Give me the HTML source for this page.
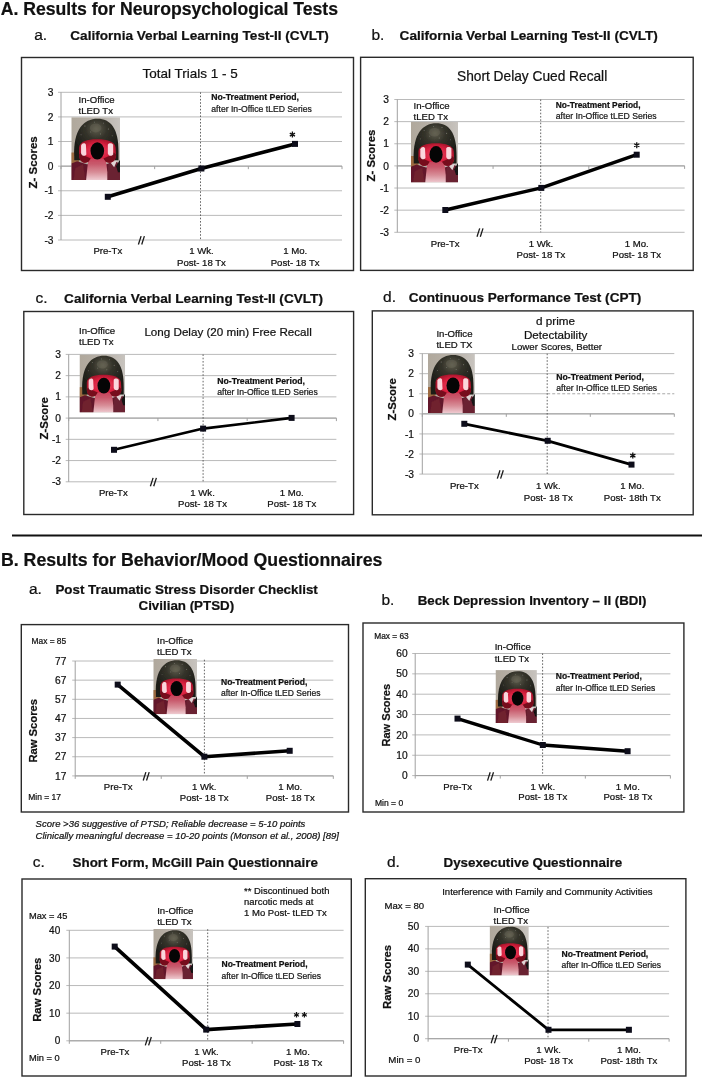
<!DOCTYPE html>
<html><head><meta charset="utf-8"><style>
html,body{margin:0;padding:0;background:#fff;}
body{width:702px;height:1077px;overflow:hidden;}
svg{display:block;font-family:"Liberation Sans",sans-serif;will-change:transform;} text{stroke:#111;stroke-width:0.22px;}
</style></head><body>
<svg width="702" height="1077" viewBox="0 0 702 1077">
<symbol id="photo" viewBox="0 0 50 64" preserveAspectRatio="none">
 <defs>
  <linearGradient id="pbg" x1="0" y1="0" x2="1" y2="0"><stop offset="0" stop-color="#b0a89c"/><stop offset="0.6" stop-color="#b8b2aa"/><stop offset="1" stop-color="#c8c4bf"/></linearGradient>
  <radialGradient id="phelm" cx="0.5" cy="0.25" r="0.6"><stop offset="0" stop-color="#5e5c4c"/><stop offset="0.4" stop-color="#34332a"/><stop offset="1" stop-color="#1c1c17"/></radialGradient>
  <radialGradient id="pglow" cx="0.5" cy="0.5" r="0.55"><stop offset="0" stop-color="#ee4a68"/><stop offset="0.6" stop-color="#d8203e"/><stop offset="1" stop-color="#a01428"/></radialGradient>
  <linearGradient id="pneck" x1="0" y1="0" x2="0" y2="1"><stop offset="0" stop-color="#c83450"/><stop offset="0.35" stop-color="#c85a6c"/><stop offset="0.65" stop-color="#d88e98"/><stop offset="1" stop-color="#f4dadf"/></linearGradient>
  <clipPath id="pclip"><rect width="50" height="64"/></clipPath>
  <filter id="pblur" x="-0.1" y="-0.1" width="1.2" height="1.2"><feGaussianBlur stdDeviation="0.6"/></filter>
 </defs>
 <rect width="50" height="64" fill="url(#pbg)"/>
 <g clip-path="url(#pclip)"><g filter="url(#pblur)">
 <rect x="-2" y="36" width="10" height="16" fill="#9c6a40"/>
 <path d="M-2 48 L-2 66 L52 66 L52 48 L44 45 L36 48 L16 48 L6 45 Z" fill="#62182a"/>
 <path d="M2 66 L4 52 L12 48 L15 66 Z" fill="#70202e"/>
 <path d="M38 48 L45 45 L52 50 L52 66 L36 66 Z" fill="#6a2030"/>
 <path d="M40 46 L47 44 L44 51 Z" fill="#e0d4d4"/>
 <path d="M46 50 L52 40 L52 56 L48 56 Z" fill="#121212"/>
 <path d="M3 40 C2 12 13 1.5 27 1.5 C40 1.5 49 11 48.5 36 L48.5 44 L3 44 Z" fill="url(#phelm)"/>
 <ellipse cx="25" cy="11" rx="6" ry="4.5" fill="#737060" opacity="0.35"/>
 <g fill="#d8d8d0" opacity="0.7"><circle cx="14" cy="9" r="0.5"/><circle cx="33" cy="6" r="0.45"/><circle cx="38" cy="12" r="0.5"/><circle cx="20" cy="15" r="0.4"/><circle cx="30" cy="17" r="0.45"/><circle cx="10" cy="18" r="0.4"/><circle cx="42" cy="19" r="0.4"/><circle cx="24" cy="5" r="0.4"/></g>
 <path d="M18 38 L35 38 L37 56 L37 66 L15 66 L16 56 Z" fill="url(#pneck)"/>
 <path d="M8 31 C8.5 25 16 22.5 26.5 22.5 C37 22.5 45 25 45.5 31 L46 40 C44.5 46.5 39 47.5 35.5 45.5 L33 42 L20 42 L17.5 45.5 C14 47.5 9 46.5 8 40 Z" fill="url(#pglow)"/>
 <path d="M8 38 C8.5 46 13 47.5 17.5 45.5 L20 42 L13 39 L10 36 Z" fill="#760c1e"/>
 <path d="M46 38 C45 46 40 47.5 35.5 45.5 L33 42 L40 39 L43.5 36 Z" fill="#760c1e"/>
 <path d="M10 29 C11 26 14 26 15 28 L15.5 38 C14 40 11 40 10 37 Z" fill="#ffe6ea" opacity="0.92"/>
 <path d="M37.5 28 C38.5 26 41.5 26 43 28 L43 38 C41.5 40 38.5 40 37.5 37 Z" fill="#ffe6ea" opacity="0.92"/>
 </g></g>
 <ellipse cx="26.7" cy="34.3" rx="7" ry="8.7" fill="#050505"/>
</symbol>
<rect width="702" height="1077" fill="#fff"/>
<text x="0.70" y="15.20" font-size="17.62" font-weight="bold" text-anchor="start" fill="#111">A. Results for Neuropsychological Tests</text>
<text x="34.20" y="39.90" font-size="15.50" font-weight="normal" text-anchor="start" fill="#111">a.</text>
<text x="70.30" y="40.20" font-size="13.60" font-weight="bold" text-anchor="start" fill="#111">California Verbal Learning Test-II (CVLT)</text>
<text x="371.40" y="40.20" font-size="15.50" font-weight="normal" text-anchor="start" fill="#111">b.</text>
<text x="399.60" y="40.10" font-size="13.58" font-weight="bold" text-anchor="start" fill="#111">California Verbal Learning Test-II (CVLT)</text>
<text x="35.40" y="303.10" font-size="15.50" font-weight="normal" text-anchor="start" fill="#111">c.</text>
<text x="64.10" y="303.10" font-size="13.61" font-weight="bold" text-anchor="start" fill="#111">California Verbal Learning Test-II (CVLT)</text>
<text x="383.10" y="301.80" font-size="15.50" font-weight="normal" text-anchor="start" fill="#111">d.</text>
<text x="408.70" y="301.80" font-size="13.57" font-weight="bold" text-anchor="start" fill="#111">Continuous Performance Test (CPT)</text>
<line x1="12.00" y1="535.50" x2="702.00" y2="535.50" stroke="#111" stroke-width="2"/>
<text x="1.00" y="565.70" font-size="17.69" font-weight="bold" text-anchor="start" fill="#111">B. Results for Behavior/Mood Questionnaires</text>
<text x="29.00" y="593.80" font-size="15.50" font-weight="normal" text-anchor="start" fill="#111">a.</text>
<text x="55.40" y="593.70" font-size="13.39" font-weight="bold" text-anchor="start" fill="#111">Post Traumatic Stress Disorder Checklist</text>
<text x="138.50" y="609.50" font-size="13.35" font-weight="bold" text-anchor="start" fill="#111">Civilian (PTSD)</text>
<text x="381.50" y="604.50" font-size="15.50" font-weight="normal" text-anchor="start" fill="#111">b.</text>
<text x="417.70" y="604.70" font-size="13.29" font-weight="bold" text-anchor="start" fill="#111">Beck Depression Inventory – II (BDI)</text>
<text x="35.60" y="827.00" font-size="9.52" font-weight="normal" font-style="italic" text-anchor="start" fill="#111">Score &gt;36 suggestive of PTSD; Reliable decrease = 5-10 points</text>
<text x="35.60" y="839.00" font-size="9.54" font-weight="normal" font-style="italic" text-anchor="start" fill="#111">Clinically meaningful decrease = 10-20 points (Monson et al., 2008) [89]</text>
<text x="32.80" y="867.00" font-size="15.50" font-weight="normal" text-anchor="start" fill="#111">c.</text>
<text x="72.60" y="867.00" font-size="13.38" font-weight="bold" text-anchor="start" fill="#111">Short Form, McGill Pain Questionnaire</text>
<text x="387.00" y="867.40" font-size="15.50" font-weight="normal" text-anchor="start" fill="#111">d.</text>
<text x="443.50" y="867.00" font-size="13.35" font-weight="bold" text-anchor="start" fill="#111">Dysexecutive Questionnaire</text>
<rect x="21.50" y="57.50" width="332.00" height="213.00" fill="#fff" stroke="#2a2a2a" stroke-width="1.4"/>
<line x1="58.00" y1="92.30" x2="342.00" y2="92.30" stroke="#bababa" stroke-width="1"/>
<text x="47.84" y="95.90" font-size="10.20" font-weight="normal" text-anchor="start" fill="#111">3</text>
<line x1="58.00" y1="116.92" x2="342.00" y2="116.92" stroke="#bababa" stroke-width="1"/>
<text x="47.84" y="120.52" font-size="10.20" font-weight="normal" text-anchor="start" fill="#111">2</text>
<line x1="58.00" y1="141.53" x2="342.00" y2="141.53" stroke="#bababa" stroke-width="1"/>
<text x="47.84" y="145.13" font-size="10.20" font-weight="normal" text-anchor="start" fill="#111">1</text>
<line x1="58.00" y1="166.15" x2="342.00" y2="166.15" stroke="#bababa" stroke-width="1"/>
<text x="47.84" y="169.75" font-size="10.20" font-weight="normal" text-anchor="start" fill="#111">0</text>
<line x1="58.00" y1="190.77" x2="342.00" y2="190.77" stroke="#bababa" stroke-width="1"/>
<text x="44.42" y="194.37" font-size="10.20" font-weight="normal" text-anchor="start" fill="#111">-1</text>
<line x1="58.00" y1="215.38" x2="342.00" y2="215.38" stroke="#bababa" stroke-width="1"/>
<text x="44.42" y="218.98" font-size="10.20" font-weight="normal" text-anchor="start" fill="#111">-2</text>
<line x1="58.00" y1="240.00" x2="342.00" y2="240.00" stroke="#bababa" stroke-width="1"/>
<text x="44.42" y="243.60" font-size="10.20" font-weight="normal" text-anchor="start" fill="#111">-3</text>
<line x1="61.00" y1="92.30" x2="61.00" y2="240.00" stroke="#a0a0a0" stroke-width="1"/>
<line x1="61.00" y1="166.15" x2="342.00" y2="166.15" stroke="#a0a0a0" stroke-width="1"/>
<line x1="61.00" y1="166.15" x2="61.00" y2="169.15" stroke="#a0a0a0" stroke-width="1"/>
<line x1="154.67" y1="166.15" x2="154.67" y2="169.15" stroke="#a0a0a0" stroke-width="1"/>
<line x1="248.33" y1="166.15" x2="248.33" y2="169.15" stroke="#a0a0a0" stroke-width="1"/>
<line x1="342.00" y1="166.15" x2="342.00" y2="169.15" stroke="#a0a0a0" stroke-width="1"/>
<line x1="200.50" y1="92.30" x2="200.50" y2="240.00" stroke="#555" stroke-width="0.9" stroke-dasharray="1.6,1.7"/>
<use href="#photo" x="0" y="0" width="50" height="64" transform="translate(71.30,117.20) scale(0.9740,0.9812)"/>
<polyline points="107.80,196.80 201.40,168.50 295.00,143.90" fill="none" stroke="#000" stroke-width="3.6" stroke-linejoin="round"/>
<rect x="104.80" y="193.80" width="6.00" height="6.00" fill="#0d0d1a" stroke="none" stroke-width="1"/>
<rect x="198.40" y="165.50" width="6.00" height="6.00" fill="#0d0d1a" stroke="none" stroke-width="1"/>
<rect x="292.00" y="140.90" width="6.00" height="6.00" fill="#0d0d1a" stroke="none" stroke-width="1"/>
<line x1="138.40" y1="244.50" x2="141.10" y2="236.10" stroke="#1a1a1a" stroke-width="1.3"/>
<line x1="141.70" y1="244.50" x2="144.40" y2="236.10" stroke="#1a1a1a" stroke-width="1.3"/>
<text x="93.43" y="254.40" font-size="9.60" font-weight="normal" text-anchor="start" fill="#111">Pre-Tx</text>
<text x="189.24" y="254.40" font-size="9.60" font-weight="normal" text-anchor="start" fill="#111">1 Wk.</text>
<text x="177.04" y="265.50" font-size="9.60" font-weight="normal" text-anchor="start" fill="#111">Post- 18 Tx</text>
<text x="283.17" y="254.40" font-size="9.60" font-weight="normal" text-anchor="start" fill="#111">1 Mo.</text>
<text x="270.71" y="265.50" font-size="9.60" font-weight="normal" text-anchor="start" fill="#111">Post- 18 Tx</text>
<text x="78.50" y="102.60" font-size="9.60" font-weight="normal" text-anchor="start" fill="#111">In-Office</text>
<text x="78.50" y="114.10" font-size="9.60" font-weight="normal" text-anchor="start" fill="#111">tLED Tx</text>
<text x="211.30" y="100.00" font-size="8.69" font-weight="bold" text-anchor="start" fill="#111">No-Treatment Period,</text>
<text x="211.30" y="111.50" font-size="8.64" font-weight="normal" text-anchor="start" fill="#222">after In-Office tLED Series</text>
<text transform="translate(37.30,188.50) rotate(-90)" x="0" y="0" font-size="11.46" font-weight="bold" fill="#111">Z- Scores</text>
<text x="142.60" y="78.20" font-size="13.47" font-weight="normal" text-anchor="start" fill="#111">Total Trials 1 - 5</text>
<path d="M292.40 131.60L292.40 137.60 M295.00 133.10L289.80 136.10 M295.00 136.10L289.80 133.10" stroke="#111" stroke-width="1.3" fill="none"/>
<rect x="360.60" y="57.30" width="332.60" height="213.10" fill="#fff" stroke="#2a2a2a" stroke-width="1.4"/>
<line x1="394.30" y1="99.50" x2="684.60" y2="99.50" stroke="#bababa" stroke-width="1"/>
<text x="383.34" y="103.10" font-size="10.20" font-weight="normal" text-anchor="start" fill="#111">3</text>
<line x1="394.30" y1="121.63" x2="684.60" y2="121.63" stroke="#bababa" stroke-width="1"/>
<text x="383.34" y="125.23" font-size="10.20" font-weight="normal" text-anchor="start" fill="#111">2</text>
<line x1="394.30" y1="143.77" x2="684.60" y2="143.77" stroke="#bababa" stroke-width="1"/>
<text x="383.34" y="147.37" font-size="10.20" font-weight="normal" text-anchor="start" fill="#111">1</text>
<line x1="394.30" y1="165.90" x2="684.60" y2="165.90" stroke="#bababa" stroke-width="1"/>
<text x="383.34" y="169.50" font-size="10.20" font-weight="normal" text-anchor="start" fill="#111">0</text>
<line x1="394.30" y1="188.03" x2="684.60" y2="188.03" stroke="#bababa" stroke-width="1"/>
<text x="379.92" y="191.63" font-size="10.20" font-weight="normal" text-anchor="start" fill="#111">-1</text>
<line x1="394.30" y1="210.17" x2="684.60" y2="210.17" stroke="#bababa" stroke-width="1"/>
<text x="379.92" y="213.77" font-size="10.20" font-weight="normal" text-anchor="start" fill="#111">-2</text>
<line x1="394.30" y1="232.30" x2="684.60" y2="232.30" stroke="#bababa" stroke-width="1"/>
<text x="379.92" y="235.90" font-size="10.20" font-weight="normal" text-anchor="start" fill="#111">-3</text>
<line x1="397.30" y1="99.50" x2="397.30" y2="232.30" stroke="#a0a0a0" stroke-width="1"/>
<line x1="397.30" y1="165.90" x2="684.60" y2="165.90" stroke="#a0a0a0" stroke-width="1"/>
<line x1="397.30" y1="165.90" x2="397.30" y2="168.90" stroke="#a0a0a0" stroke-width="1"/>
<line x1="493.07" y1="165.90" x2="493.07" y2="168.90" stroke="#a0a0a0" stroke-width="1"/>
<line x1="588.83" y1="165.90" x2="588.83" y2="168.90" stroke="#a0a0a0" stroke-width="1"/>
<line x1="684.60" y1="165.90" x2="684.60" y2="168.90" stroke="#a0a0a0" stroke-width="1"/>
<line x1="540.70" y1="99.50" x2="540.70" y2="232.30" stroke="#555" stroke-width="0.9" stroke-dasharray="1.6,1.7"/>
<use href="#photo" x="0" y="0" width="50" height="64" transform="translate(410.90,121.80) scale(0.9420,0.9500)"/>
<polyline points="445.30,210.00 541.30,187.90 636.70,154.70" fill="none" stroke="#000" stroke-width="3.4" stroke-linejoin="round"/>
<rect x="442.30" y="207.00" width="6.00" height="6.00" fill="#0d0d1a" stroke="none" stroke-width="1"/>
<rect x="538.30" y="184.90" width="6.00" height="6.00" fill="#0d0d1a" stroke="none" stroke-width="1"/>
<rect x="633.70" y="151.70" width="6.00" height="6.00" fill="#0d0d1a" stroke="none" stroke-width="1"/>
<line x1="477.00" y1="236.80" x2="479.70" y2="228.40" stroke="#1a1a1a" stroke-width="1.3"/>
<line x1="480.30" y1="236.80" x2="483.00" y2="228.40" stroke="#1a1a1a" stroke-width="1.3"/>
<text x="430.78" y="246.80" font-size="9.60" font-weight="normal" text-anchor="start" fill="#111">Pre-Tx</text>
<text x="528.69" y="246.80" font-size="9.60" font-weight="normal" text-anchor="start" fill="#111">1 Wk.</text>
<text x="516.49" y="258.20" font-size="9.60" font-weight="normal" text-anchor="start" fill="#111">Post- 18 Tx</text>
<text x="624.72" y="246.80" font-size="9.60" font-weight="normal" text-anchor="start" fill="#111">1 Mo.</text>
<text x="612.26" y="258.20" font-size="9.60" font-weight="normal" text-anchor="start" fill="#111">Post- 18 Tx</text>
<text x="413.50" y="108.50" font-size="9.60" font-weight="normal" text-anchor="start" fill="#111">In-Office</text>
<text x="413.50" y="120.00" font-size="9.60" font-weight="normal" text-anchor="start" fill="#111">tLED Tx</text>
<text x="555.80" y="107.60" font-size="8.38" font-weight="bold" text-anchor="start" fill="#111">No-Treatment Period,</text>
<text x="555.80" y="119.20" font-size="8.67" font-weight="normal" text-anchor="start" fill="#222">after In-Office tLED Series</text>
<text transform="translate(375.10,181.40) rotate(-90)" x="0" y="0" font-size="11.37" font-weight="bold" fill="#111">Z- Scores</text>
<text x="457.00" y="80.80" font-size="13.72" font-weight="normal" text-anchor="start" fill="#111">Short Delay Cued Recall</text>
<path d="M636.75 142.30L636.75 148.30 M639.35 143.80L634.15 146.80 M639.35 146.80L634.15 143.80" stroke="#111" stroke-width="1.3" fill="none"/>
<rect x="23.80" y="311.50" width="329.80" height="203.00" fill="#fff" stroke="#2a2a2a" stroke-width="1.4"/>
<line x1="65.70" y1="354.40" x2="336.40" y2="354.40" stroke="#bababa" stroke-width="1"/>
<text x="55.34" y="358.00" font-size="10.20" font-weight="normal" text-anchor="start" fill="#111">3</text>
<line x1="65.70" y1="375.63" x2="336.40" y2="375.63" stroke="#bababa" stroke-width="1"/>
<text x="55.34" y="379.23" font-size="10.20" font-weight="normal" text-anchor="start" fill="#111">2</text>
<line x1="65.70" y1="396.87" x2="336.40" y2="396.87" stroke="#bababa" stroke-width="1"/>
<text x="55.34" y="400.47" font-size="10.20" font-weight="normal" text-anchor="start" fill="#111">1</text>
<line x1="65.70" y1="418.10" x2="336.40" y2="418.10" stroke="#bababa" stroke-width="1"/>
<text x="55.34" y="421.70" font-size="10.20" font-weight="normal" text-anchor="start" fill="#111">0</text>
<line x1="65.70" y1="439.33" x2="336.40" y2="439.33" stroke="#bababa" stroke-width="1"/>
<text x="51.92" y="442.93" font-size="10.20" font-weight="normal" text-anchor="start" fill="#111">-1</text>
<line x1="65.70" y1="460.57" x2="336.40" y2="460.57" stroke="#bababa" stroke-width="1"/>
<text x="51.92" y="464.17" font-size="10.20" font-weight="normal" text-anchor="start" fill="#111">-2</text>
<line x1="65.70" y1="481.80" x2="336.40" y2="481.80" stroke="#bababa" stroke-width="1"/>
<text x="51.92" y="485.40" font-size="10.20" font-weight="normal" text-anchor="start" fill="#111">-3</text>
<line x1="68.70" y1="354.40" x2="68.70" y2="481.80" stroke="#a0a0a0" stroke-width="1"/>
<line x1="68.70" y1="418.10" x2="336.40" y2="418.10" stroke="#a0a0a0" stroke-width="1"/>
<line x1="68.70" y1="418.10" x2="68.70" y2="421.10" stroke="#a0a0a0" stroke-width="1"/>
<line x1="157.93" y1="418.10" x2="157.93" y2="421.10" stroke="#a0a0a0" stroke-width="1"/>
<line x1="247.17" y1="418.10" x2="247.17" y2="421.10" stroke="#a0a0a0" stroke-width="1"/>
<line x1="336.40" y1="418.10" x2="336.40" y2="421.10" stroke="#a0a0a0" stroke-width="1"/>
<line x1="203.10" y1="354.40" x2="203.10" y2="481.80" stroke="#555" stroke-width="0.9" stroke-dasharray="1.6,1.7"/>
<use href="#photo" x="0" y="0" width="50" height="64" transform="translate(79.50,354.40) scale(0.9120,0.9094)"/>
<polyline points="114.00,449.80 203.10,428.60 291.60,417.90" fill="none" stroke="#000" stroke-width="2.6" stroke-linejoin="round"/>
<rect x="111.00" y="446.80" width="6.00" height="6.00" fill="#0d0d1a" stroke="none" stroke-width="1"/>
<rect x="200.10" y="425.60" width="6.00" height="6.00" fill="#0d0d1a" stroke="none" stroke-width="1"/>
<rect x="288.60" y="414.90" width="6.00" height="6.00" fill="#0d0d1a" stroke="none" stroke-width="1"/>
<line x1="150.40" y1="486.30" x2="153.10" y2="477.90" stroke="#1a1a1a" stroke-width="1.3"/>
<line x1="153.70" y1="486.30" x2="156.40" y2="477.90" stroke="#1a1a1a" stroke-width="1.3"/>
<text x="98.92" y="496.30" font-size="9.60" font-weight="normal" text-anchor="start" fill="#111">Pre-Tx</text>
<text x="190.29" y="496.30" font-size="9.60" font-weight="normal" text-anchor="start" fill="#111">1 Wk.</text>
<text x="178.09" y="507.30" font-size="9.60" font-weight="normal" text-anchor="start" fill="#111">Post- 18 Tx</text>
<text x="279.78" y="496.30" font-size="9.60" font-weight="normal" text-anchor="start" fill="#111">1 Mo.</text>
<text x="267.33" y="507.30" font-size="9.60" font-weight="normal" text-anchor="start" fill="#111">Post- 18 Tx</text>
<text x="79.00" y="333.80" font-size="9.60" font-weight="normal" text-anchor="start" fill="#111">In-Office</text>
<text x="79.00" y="345.40" font-size="9.60" font-weight="normal" text-anchor="start" fill="#111">tLED Tx</text>
<text x="217.20" y="384.10" font-size="8.69" font-weight="bold" text-anchor="start" fill="#111">No-Treatment Period,</text>
<text x="217.20" y="395.40" font-size="8.65" font-weight="normal" text-anchor="start" fill="#222">after In-Office tLED Series</text>
<text transform="translate(47.70,439.40) rotate(-90)" x="0" y="0" font-size="11.36" font-weight="bold" fill="#111">Z-Score</text>
<text x="144.40" y="335.60" font-size="11.64" font-weight="normal" text-anchor="start" fill="#111">Long Delay (20 min) Free Recall</text>
<rect x="372.30" y="310.90" width="320.90" height="203.90" fill="#fff" stroke="#2a2a2a" stroke-width="1.4"/>
<line x1="419.30" y1="353.60" x2="674.30" y2="353.60" stroke="#bababa" stroke-width="1"/>
<text x="408.34" y="357.20" font-size="10.20" font-weight="normal" text-anchor="start" fill="#111">3</text>
<line x1="419.30" y1="373.68" x2="674.30" y2="373.68" stroke="#bababa" stroke-width="1"/>
<text x="408.34" y="377.28" font-size="10.20" font-weight="normal" text-anchor="start" fill="#111">2</text>
<line x1="419.30" y1="393.77" x2="547.20" y2="393.77" stroke="#bababa" stroke-width="1"/>
<line x1="547.20" y1="393.77" x2="674.30" y2="393.77" stroke="#a8a8a8" stroke-width="1" stroke-dasharray="3,2"/>
<text x="408.34" y="397.37" font-size="10.20" font-weight="normal" text-anchor="start" fill="#111">1</text>
<line x1="419.30" y1="413.85" x2="674.30" y2="413.85" stroke="#bababa" stroke-width="1"/>
<text x="408.34" y="417.45" font-size="10.20" font-weight="normal" text-anchor="start" fill="#111">0</text>
<line x1="419.30" y1="433.93" x2="674.30" y2="433.93" stroke="#bababa" stroke-width="1"/>
<text x="404.92" y="437.53" font-size="10.20" font-weight="normal" text-anchor="start" fill="#111">-1</text>
<line x1="419.30" y1="454.02" x2="674.30" y2="454.02" stroke="#bababa" stroke-width="1"/>
<text x="404.92" y="457.62" font-size="10.20" font-weight="normal" text-anchor="start" fill="#111">-2</text>
<line x1="419.30" y1="474.10" x2="674.30" y2="474.10" stroke="#bababa" stroke-width="1"/>
<text x="404.92" y="477.70" font-size="10.20" font-weight="normal" text-anchor="start" fill="#111">-3</text>
<line x1="422.30" y1="353.60" x2="422.30" y2="474.10" stroke="#a0a0a0" stroke-width="1"/>
<line x1="422.30" y1="413.85" x2="674.30" y2="413.85" stroke="#a0a0a0" stroke-width="1"/>
<line x1="422.30" y1="413.85" x2="422.30" y2="416.85" stroke="#a0a0a0" stroke-width="1"/>
<line x1="506.30" y1="413.85" x2="506.30" y2="416.85" stroke="#a0a0a0" stroke-width="1"/>
<line x1="590.30" y1="413.85" x2="590.30" y2="416.85" stroke="#a0a0a0" stroke-width="1"/>
<line x1="674.30" y1="413.85" x2="674.30" y2="416.85" stroke="#a0a0a0" stroke-width="1"/>
<line x1="547.20" y1="353.60" x2="547.20" y2="474.10" stroke="#555" stroke-width="0.9" stroke-dasharray="1.6,1.7"/>
<use href="#photo" x="0" y="0" width="50" height="64" transform="translate(428.00,353.60) scale(0.9380,0.9297)"/>
<polyline points="464.30,423.80 547.70,440.80 631.50,464.60" fill="none" stroke="#000" stroke-width="2.8" stroke-linejoin="round"/>
<rect x="461.30" y="420.80" width="6.00" height="6.00" fill="#0d0d1a" stroke="none" stroke-width="1"/>
<rect x="544.70" y="437.80" width="6.00" height="6.00" fill="#0d0d1a" stroke="none" stroke-width="1"/>
<rect x="628.50" y="461.60" width="6.00" height="6.00" fill="#0d0d1a" stroke="none" stroke-width="1"/>
<line x1="497.30" y1="478.60" x2="500.00" y2="470.20" stroke="#1a1a1a" stroke-width="1.3"/>
<line x1="500.60" y1="478.60" x2="503.30" y2="470.20" stroke="#1a1a1a" stroke-width="1.3"/>
<text x="449.90" y="488.70" font-size="9.60" font-weight="normal" text-anchor="start" fill="#111">Pre-Tx</text>
<text x="536.04" y="488.70" font-size="9.60" font-weight="normal" text-anchor="start" fill="#111">1 Wk.</text>
<text x="523.84" y="501.00" font-size="9.60" font-weight="normal" text-anchor="start" fill="#111">Post- 18 Tx</text>
<text x="620.30" y="488.70" font-size="9.60" font-weight="normal" text-anchor="start" fill="#111">1 Mo.</text>
<text x="603.84" y="501.00" font-size="9.60" font-weight="normal" text-anchor="start" fill="#111">Post- 18th Tx</text>
<text x="436.40" y="336.90" font-size="9.60" font-weight="normal" text-anchor="start" fill="#111">In-Office</text>
<text x="436.40" y="348.00" font-size="9.60" font-weight="normal" text-anchor="start" fill="#111">tLED TX</text>
<text x="556.30" y="379.60" font-size="8.66" font-weight="bold" text-anchor="start" fill="#111">No-Treatment Period,</text>
<text x="556.30" y="391.30" font-size="8.67" font-weight="normal" text-anchor="start" fill="#222">after In-Office tLED Series</text>
<text transform="translate(395.80,420.50) rotate(-90)" x="0" y="0" font-size="11.36" font-weight="bold" fill="#111">Z-Score</text>
<text x="536.00" y="325.10" font-size="11.69" font-weight="normal" text-anchor="start" fill="#111">d prime</text>
<text x="523.90" y="339.00" font-size="11.63" font-weight="normal" text-anchor="start" fill="#111">Detectability</text>
<text x="511.60" y="350.00" font-size="9.70" font-weight="normal" text-anchor="start" fill="#111">Lower Scores, Better</text>
<path d="M632.80 452.60L632.80 458.60 M635.40 454.10L630.20 457.10 M635.40 457.10L630.20 454.10" stroke="#111" stroke-width="1.3" fill="none"/>
<rect x="21.30" y="624.60" width="327.20" height="187.40" fill="#fff" stroke="#2a2a2a" stroke-width="1.4"/>
<line x1="72.20" y1="661.00" x2="333.30" y2="661.00" stroke="#bababa" stroke-width="1"/>
<text x="55.08" y="664.60" font-size="10.20" font-weight="normal" text-anchor="start" fill="#111">77</text>
<line x1="72.20" y1="680.15" x2="333.30" y2="680.15" stroke="#bababa" stroke-width="1"/>
<text x="55.08" y="683.75" font-size="10.20" font-weight="normal" text-anchor="start" fill="#111">67</text>
<line x1="72.20" y1="699.30" x2="333.30" y2="699.30" stroke="#bababa" stroke-width="1"/>
<text x="55.08" y="702.90" font-size="10.20" font-weight="normal" text-anchor="start" fill="#111">57</text>
<line x1="72.20" y1="718.45" x2="333.30" y2="718.45" stroke="#bababa" stroke-width="1"/>
<text x="55.08" y="722.05" font-size="10.20" font-weight="normal" text-anchor="start" fill="#111">47</text>
<line x1="72.20" y1="737.60" x2="333.30" y2="737.60" stroke="#bababa" stroke-width="1"/>
<text x="55.08" y="741.20" font-size="10.20" font-weight="normal" text-anchor="start" fill="#111">37</text>
<line x1="72.20" y1="756.75" x2="333.30" y2="756.75" stroke="#bababa" stroke-width="1"/>
<text x="55.08" y="760.35" font-size="10.20" font-weight="normal" text-anchor="start" fill="#111">27</text>
<line x1="72.20" y1="775.90" x2="333.30" y2="775.90" stroke="#bababa" stroke-width="1"/>
<text x="55.08" y="779.50" font-size="10.20" font-weight="normal" text-anchor="start" fill="#111">17</text>
<line x1="75.20" y1="661.00" x2="75.20" y2="775.90" stroke="#a0a0a0" stroke-width="1"/>
<line x1="75.20" y1="775.90" x2="333.30" y2="775.90" stroke="#a0a0a0" stroke-width="1"/>
<line x1="75.20" y1="775.90" x2="75.20" y2="778.90" stroke="#a0a0a0" stroke-width="1"/>
<line x1="161.23" y1="775.90" x2="161.23" y2="778.90" stroke="#a0a0a0" stroke-width="1"/>
<line x1="247.27" y1="775.90" x2="247.27" y2="778.90" stroke="#a0a0a0" stroke-width="1"/>
<line x1="333.30" y1="775.90" x2="333.30" y2="778.90" stroke="#a0a0a0" stroke-width="1"/>
<line x1="204.40" y1="659.70" x2="204.40" y2="775.00" stroke="#555" stroke-width="0.9" stroke-dasharray="1.6,1.7"/>
<use href="#photo" x="0" y="0" width="50" height="64" transform="translate(153.30,659.00) scale(0.8740,0.8625)"/>
<polyline points="117.70,684.60 204.40,756.70 289.70,750.80" fill="none" stroke="#000" stroke-width="3.6" stroke-linejoin="round"/>
<rect x="114.70" y="681.60" width="6.00" height="6.00" fill="#0d0d1a" stroke="none" stroke-width="1"/>
<rect x="201.40" y="753.70" width="6.00" height="6.00" fill="#0d0d1a" stroke="none" stroke-width="1"/>
<rect x="286.70" y="747.80" width="6.00" height="6.00" fill="#0d0d1a" stroke="none" stroke-width="1"/>
<line x1="143.20" y1="780.50" x2="145.90" y2="772.10" stroke="#1a1a1a" stroke-width="1.3"/>
<line x1="146.50" y1="780.50" x2="149.20" y2="772.10" stroke="#1a1a1a" stroke-width="1.3"/>
<text x="103.82" y="790.40" font-size="9.60" font-weight="normal" text-anchor="start" fill="#111">Pre-Tx</text>
<text x="191.99" y="790.40" font-size="9.60" font-weight="normal" text-anchor="start" fill="#111">1 Wk.</text>
<text x="179.79" y="800.80" font-size="9.60" font-weight="normal" text-anchor="start" fill="#111">Post- 18 Tx</text>
<text x="278.28" y="790.40" font-size="9.60" font-weight="normal" text-anchor="start" fill="#111">1 Mo.</text>
<text x="265.83" y="800.80" font-size="9.60" font-weight="normal" text-anchor="start" fill="#111">Post- 18 Tx</text>
<text x="157.00" y="643.50" font-size="9.60" font-weight="normal" text-anchor="start" fill="#111">In-Office</text>
<text x="157.00" y="655.10" font-size="9.60" font-weight="normal" text-anchor="start" fill="#111">tLED Tx</text>
<text x="221.00" y="684.90" font-size="8.54" font-weight="bold" text-anchor="start" fill="#111">No-Treatment Period,</text>
<text x="221.00" y="696.40" font-size="8.54" font-weight="normal" text-anchor="start" fill="#222">after In-Office tLED Series</text>
<text transform="translate(36.80,762.60) rotate(-90)" x="0" y="0" font-size="11.22" font-weight="bold" fill="#111">Raw Scores</text>
<text x="31.50" y="644.40" font-size="8.38" font-weight="normal" text-anchor="start" fill="#111">Max = 85</text>
<text x="28.20" y="800.00" font-size="8.49" font-weight="normal" text-anchor="start" fill="#111">Min = 17</text>
<rect x="363.00" y="623.00" width="320.90" height="189.00" fill="#fff" stroke="#2a2a2a" stroke-width="1.4"/>
<line x1="412.20" y1="653.50" x2="670.40" y2="653.50" stroke="#bababa" stroke-width="1"/>
<text x="396.28" y="657.10" font-size="10.20" font-weight="normal" text-anchor="start" fill="#111">60</text>
<line x1="412.20" y1="673.85" x2="670.40" y2="673.85" stroke="#bababa" stroke-width="1"/>
<text x="396.28" y="677.45" font-size="10.20" font-weight="normal" text-anchor="start" fill="#111">50</text>
<line x1="412.20" y1="694.20" x2="670.40" y2="694.20" stroke="#bababa" stroke-width="1"/>
<text x="396.28" y="697.80" font-size="10.20" font-weight="normal" text-anchor="start" fill="#111">40</text>
<line x1="412.20" y1="714.55" x2="670.40" y2="714.55" stroke="#bababa" stroke-width="1"/>
<text x="396.28" y="718.15" font-size="10.20" font-weight="normal" text-anchor="start" fill="#111">30</text>
<line x1="412.20" y1="734.90" x2="670.40" y2="734.90" stroke="#bababa" stroke-width="1"/>
<text x="396.28" y="738.50" font-size="10.20" font-weight="normal" text-anchor="start" fill="#111">20</text>
<line x1="412.20" y1="755.25" x2="670.40" y2="755.25" stroke="#bababa" stroke-width="1"/>
<text x="396.28" y="758.85" font-size="10.20" font-weight="normal" text-anchor="start" fill="#111">10</text>
<line x1="412.20" y1="775.60" x2="670.40" y2="775.60" stroke="#bababa" stroke-width="1"/>
<text x="401.94" y="779.20" font-size="10.20" font-weight="normal" text-anchor="start" fill="#111">0</text>
<line x1="415.20" y1="653.50" x2="415.20" y2="775.60" stroke="#a0a0a0" stroke-width="1"/>
<line x1="415.20" y1="775.60" x2="670.40" y2="775.60" stroke="#a0a0a0" stroke-width="1"/>
<line x1="415.20" y1="775.60" x2="415.20" y2="778.60" stroke="#a0a0a0" stroke-width="1"/>
<line x1="500.27" y1="775.60" x2="500.27" y2="778.60" stroke="#a0a0a0" stroke-width="1"/>
<line x1="585.33" y1="775.60" x2="585.33" y2="778.60" stroke="#a0a0a0" stroke-width="1"/>
<line x1="670.40" y1="775.60" x2="670.40" y2="778.60" stroke="#a0a0a0" stroke-width="1"/>
<line x1="542.60" y1="653.40" x2="542.60" y2="773.70" stroke="#555" stroke-width="0.9" stroke-dasharray="1.6,1.7"/>
<use href="#photo" x="0" y="0" width="50" height="64" transform="translate(495.50,670.10) scale(0.8280,0.8266)"/>
<polyline points="457.50,718.60 542.80,745.00 627.60,751.20" fill="none" stroke="#000" stroke-width="3.4" stroke-linejoin="round"/>
<rect x="454.50" y="715.60" width="6.00" height="6.00" fill="#0d0d1a" stroke="none" stroke-width="1"/>
<rect x="539.80" y="742.00" width="6.00" height="6.00" fill="#0d0d1a" stroke="none" stroke-width="1"/>
<rect x="624.60" y="748.20" width="6.00" height="6.00" fill="#0d0d1a" stroke="none" stroke-width="1"/>
<line x1="487.50" y1="780.60" x2="490.20" y2="772.20" stroke="#1a1a1a" stroke-width="1.3"/>
<line x1="490.80" y1="780.60" x2="493.50" y2="772.20" stroke="#1a1a1a" stroke-width="1.3"/>
<text x="443.33" y="789.50" font-size="9.60" font-weight="normal" text-anchor="start" fill="#111">Pre-Tx</text>
<text x="530.54" y="789.50" font-size="9.60" font-weight="normal" text-anchor="start" fill="#111">1 Wk.</text>
<text x="518.34" y="800.40" font-size="9.60" font-weight="normal" text-anchor="start" fill="#111">Post- 18 Tx</text>
<text x="615.87" y="789.50" font-size="9.60" font-weight="normal" text-anchor="start" fill="#111">1 Mo.</text>
<text x="603.41" y="800.40" font-size="9.60" font-weight="normal" text-anchor="start" fill="#111">Post- 18 Tx</text>
<text x="494.70" y="650.10" font-size="9.60" font-weight="normal" text-anchor="start" fill="#111">In-Office</text>
<text x="494.70" y="661.90" font-size="9.60" font-weight="normal" text-anchor="start" fill="#111">tLED Tx</text>
<text x="555.80" y="679.30" font-size="8.51" font-weight="bold" text-anchor="start" fill="#111">No-Treatment Period,</text>
<text x="555.80" y="691.00" font-size="8.54" font-weight="normal" text-anchor="start" fill="#222">after In-Office tLED Series</text>
<text transform="translate(389.70,746.50) rotate(-90)" x="0" y="0" font-size="11.06" font-weight="bold" fill="#111">Raw Scores</text>
<text x="374.20" y="638.60" font-size="8.36" font-weight="normal" text-anchor="start" fill="#111">Max = 63</text>
<text x="375.00" y="805.60" font-size="8.53" font-weight="normal" text-anchor="start" fill="#111">Min = 0</text>
<rect x="22.00" y="879.00" width="329.30" height="197.00" fill="#fff" stroke="#2a2a2a" stroke-width="1.4"/>
<line x1="66.30" y1="930.30" x2="343.60" y2="930.30" stroke="#bababa" stroke-width="1"/>
<text x="49.10" y="933.90" font-size="10.00" font-weight="normal" text-anchor="start" fill="#111">40</text>
<line x1="66.30" y1="957.92" x2="343.60" y2="957.92" stroke="#bababa" stroke-width="1"/>
<text x="49.10" y="961.52" font-size="10.00" font-weight="normal" text-anchor="start" fill="#111">30</text>
<line x1="66.30" y1="985.55" x2="343.60" y2="985.55" stroke="#bababa" stroke-width="1"/>
<text x="49.10" y="989.15" font-size="10.00" font-weight="normal" text-anchor="start" fill="#111">20</text>
<line x1="66.30" y1="1013.17" x2="343.60" y2="1013.17" stroke="#bababa" stroke-width="1"/>
<text x="49.10" y="1016.77" font-size="10.00" font-weight="normal" text-anchor="start" fill="#111">10</text>
<line x1="66.30" y1="1040.80" x2="343.60" y2="1040.80" stroke="#bababa" stroke-width="1"/>
<text x="54.65" y="1044.40" font-size="10.00" font-weight="normal" text-anchor="start" fill="#111">0</text>
<line x1="69.30" y1="930.30" x2="69.30" y2="1040.80" stroke="#a0a0a0" stroke-width="1"/>
<line x1="69.30" y1="1040.80" x2="343.60" y2="1040.80" stroke="#a0a0a0" stroke-width="1"/>
<line x1="69.30" y1="1040.80" x2="69.30" y2="1043.80" stroke="#a0a0a0" stroke-width="1"/>
<line x1="160.73" y1="1040.80" x2="160.73" y2="1043.80" stroke="#a0a0a0" stroke-width="1"/>
<line x1="252.17" y1="1040.80" x2="252.17" y2="1043.80" stroke="#a0a0a0" stroke-width="1"/>
<line x1="343.60" y1="1040.80" x2="343.60" y2="1043.80" stroke="#a0a0a0" stroke-width="1"/>
<line x1="207.70" y1="929.20" x2="207.70" y2="1040.80" stroke="#555" stroke-width="0.9" stroke-dasharray="1.6,1.7"/>
<use href="#photo" x="0" y="0" width="50" height="64" transform="translate(153.30,929.00) scale(0.7940,0.7844)"/>
<polyline points="114.70,946.60 206.20,1029.60 297.40,1024.00" fill="none" stroke="#000" stroke-width="3.6" stroke-linejoin="round"/>
<rect x="111.70" y="943.60" width="6.00" height="6.00" fill="#0d0d1a" stroke="none" stroke-width="1"/>
<rect x="203.20" y="1026.60" width="6.00" height="6.00" fill="#0d0d1a" stroke="none" stroke-width="1"/>
<rect x="294.40" y="1021.00" width="6.00" height="6.00" fill="#0d0d1a" stroke="none" stroke-width="1"/>
<line x1="145.30" y1="1045.40" x2="148.00" y2="1037.00" stroke="#1a1a1a" stroke-width="1.3"/>
<line x1="148.60" y1="1045.40" x2="151.30" y2="1037.00" stroke="#1a1a1a" stroke-width="1.3"/>
<text x="100.62" y="1054.90" font-size="9.60" font-weight="normal" text-anchor="start" fill="#111">Pre-Tx</text>
<text x="194.19" y="1054.90" font-size="9.60" font-weight="normal" text-anchor="start" fill="#111">1 Wk.</text>
<text x="181.99" y="1066.40" font-size="9.60" font-weight="normal" text-anchor="start" fill="#111">Post- 18 Tx</text>
<text x="285.88" y="1054.90" font-size="9.60" font-weight="normal" text-anchor="start" fill="#111">1 Mo.</text>
<text x="273.43" y="1066.40" font-size="9.60" font-weight="normal" text-anchor="start" fill="#111">Post- 18 Tx</text>
<text x="157.20" y="913.60" font-size="9.60" font-weight="normal" text-anchor="start" fill="#111">In-Office</text>
<text x="157.20" y="925.10" font-size="9.60" font-weight="normal" text-anchor="start" fill="#111">tLED Tx</text>
<text x="221.50" y="967.20" font-size="8.52" font-weight="bold" text-anchor="start" fill="#111">No-Treatment Period,</text>
<text x="221.50" y="978.50" font-size="8.54" font-weight="normal" text-anchor="start" fill="#222">after In-Office tLED Series</text>
<text transform="translate(40.80,1021.80) rotate(-90)" x="0" y="0" font-size="11.32" font-weight="bold" fill="#111">Raw Scores</text>
<text x="29.00" y="918.70" font-size="9.28" font-weight="normal" text-anchor="start" fill="#111">Max = 45</text>
<text x="29.00" y="1060.50" font-size="9.29" font-weight="normal" text-anchor="start" fill="#111">Min = 0</text>
<text x="244.10" y="894.10" font-size="9.43" font-weight="normal" text-anchor="start" fill="#111">** Discontinued both</text>
<text x="244.10" y="904.90" font-size="9.45" font-weight="normal" text-anchor="start" fill="#111">narcotic meds at</text>
<text x="244.10" y="916.40" font-size="9.49" font-weight="normal" text-anchor="start" fill="#111">1 Mo Post- tLED Tx</text>
<path d="M296.50 1012.00L296.50 1017.60 M298.92 1013.40L294.08 1016.20 M298.92 1016.20L294.08 1013.40" stroke="#111" stroke-width="1.2" fill="none"/>
<path d="M304.40 1012.00L304.40 1017.60 M306.82 1013.40L301.98 1016.20 M306.82 1016.20L301.98 1013.40" stroke="#111" stroke-width="1.2" fill="none"/>
<rect x="365.30" y="878.70" width="320.60" height="197.30" fill="#fff" stroke="#2a2a2a" stroke-width="1.4"/>
<line x1="425.10" y1="926.40" x2="669.10" y2="926.40" stroke="#bababa" stroke-width="1"/>
<text x="407.78" y="930.00" font-size="10.20" font-weight="normal" text-anchor="start" fill="#111">50</text>
<line x1="425.10" y1="948.86" x2="669.10" y2="948.86" stroke="#bababa" stroke-width="1"/>
<text x="407.78" y="952.46" font-size="10.20" font-weight="normal" text-anchor="start" fill="#111">40</text>
<line x1="425.10" y1="971.32" x2="669.10" y2="971.32" stroke="#bababa" stroke-width="1"/>
<text x="407.78" y="974.92" font-size="10.20" font-weight="normal" text-anchor="start" fill="#111">30</text>
<line x1="425.10" y1="993.78" x2="669.10" y2="993.78" stroke="#bababa" stroke-width="1"/>
<text x="407.78" y="997.38" font-size="10.20" font-weight="normal" text-anchor="start" fill="#111">20</text>
<line x1="425.10" y1="1016.24" x2="669.10" y2="1016.24" stroke="#bababa" stroke-width="1"/>
<text x="407.78" y="1019.84" font-size="10.20" font-weight="normal" text-anchor="start" fill="#111">10</text>
<line x1="425.10" y1="1038.70" x2="669.10" y2="1038.70" stroke="#bababa" stroke-width="1"/>
<text x="413.44" y="1042.30" font-size="10.20" font-weight="normal" text-anchor="start" fill="#111">0</text>
<line x1="428.10" y1="926.40" x2="428.10" y2="1038.70" stroke="#a0a0a0" stroke-width="1"/>
<line x1="428.10" y1="1038.70" x2="669.10" y2="1038.70" stroke="#a0a0a0" stroke-width="1"/>
<line x1="428.10" y1="1038.70" x2="428.10" y2="1041.70" stroke="#a0a0a0" stroke-width="1"/>
<line x1="508.43" y1="1038.70" x2="508.43" y2="1041.70" stroke="#a0a0a0" stroke-width="1"/>
<line x1="588.77" y1="1038.70" x2="588.77" y2="1041.70" stroke="#a0a0a0" stroke-width="1"/>
<line x1="669.10" y1="1038.70" x2="669.10" y2="1041.70" stroke="#a0a0a0" stroke-width="1"/>
<line x1="548.00" y1="926.90" x2="548.00" y2="1038.00" stroke="#555" stroke-width="0.9" stroke-dasharray="1.6,1.7"/>
<use href="#photo" x="0" y="0" width="50" height="64" transform="translate(489.60,925.60) scale(0.7840,0.7812)"/>
<polyline points="467.80,964.60 548.50,1029.80 628.90,1029.80" fill="none" stroke="#000" stroke-width="2.8" stroke-linejoin="round"/>
<rect x="464.80" y="961.60" width="6.00" height="6.00" fill="#0d0d1a" stroke="none" stroke-width="1"/>
<rect x="545.50" y="1026.80" width="6.00" height="6.00" fill="#0d0d1a" stroke="none" stroke-width="1"/>
<rect x="625.90" y="1026.80" width="6.00" height="6.00" fill="#0d0d1a" stroke="none" stroke-width="1"/>
<line x1="491.10" y1="1043.30" x2="493.80" y2="1034.90" stroke="#1a1a1a" stroke-width="1.3"/>
<line x1="494.40" y1="1043.30" x2="497.10" y2="1034.90" stroke="#1a1a1a" stroke-width="1.3"/>
<text x="453.87" y="1052.90" font-size="9.60" font-weight="normal" text-anchor="start" fill="#111">Pre-Tx</text>
<text x="536.34" y="1052.90" font-size="9.60" font-weight="normal" text-anchor="start" fill="#111">1 Wk.</text>
<text x="524.14" y="1063.50" font-size="9.60" font-weight="normal" text-anchor="start" fill="#111">Post- 18 Tx</text>
<text x="616.93" y="1052.90" font-size="9.60" font-weight="normal" text-anchor="start" fill="#111">1 Mo.</text>
<text x="600.47" y="1063.50" font-size="9.60" font-weight="normal" text-anchor="start" fill="#111">Post- 18th Tx</text>
<text x="493.50" y="912.80" font-size="9.60" font-weight="normal" text-anchor="start" fill="#111">In-Office</text>
<text x="493.50" y="924.40" font-size="9.60" font-weight="normal" text-anchor="start" fill="#111">tLED Tx</text>
<text x="561.50" y="957.20" font-size="8.58" font-weight="bold" text-anchor="start" fill="#111">No-Treatment Period,</text>
<text x="561.50" y="968.40" font-size="8.56" font-weight="normal" text-anchor="start" fill="#222">after In-Office tLED Series</text>
<text transform="translate(391.40,1009.00) rotate(-90)" x="0" y="0" font-size="11.32" font-weight="bold" fill="#111">Raw Scores</text>
<text x="442.20" y="895.30" font-size="9.54" font-weight="normal" text-anchor="start" fill="#111">Interference with Family and Community Activities</text>
<text x="384.50" y="908.50" font-size="9.59" font-weight="normal" text-anchor="start" fill="#111">Max = 80</text>
<text x="388.30" y="1062.80" font-size="9.71" font-weight="normal" text-anchor="start" fill="#111">Min = 0</text>
</svg>
</body></html>
